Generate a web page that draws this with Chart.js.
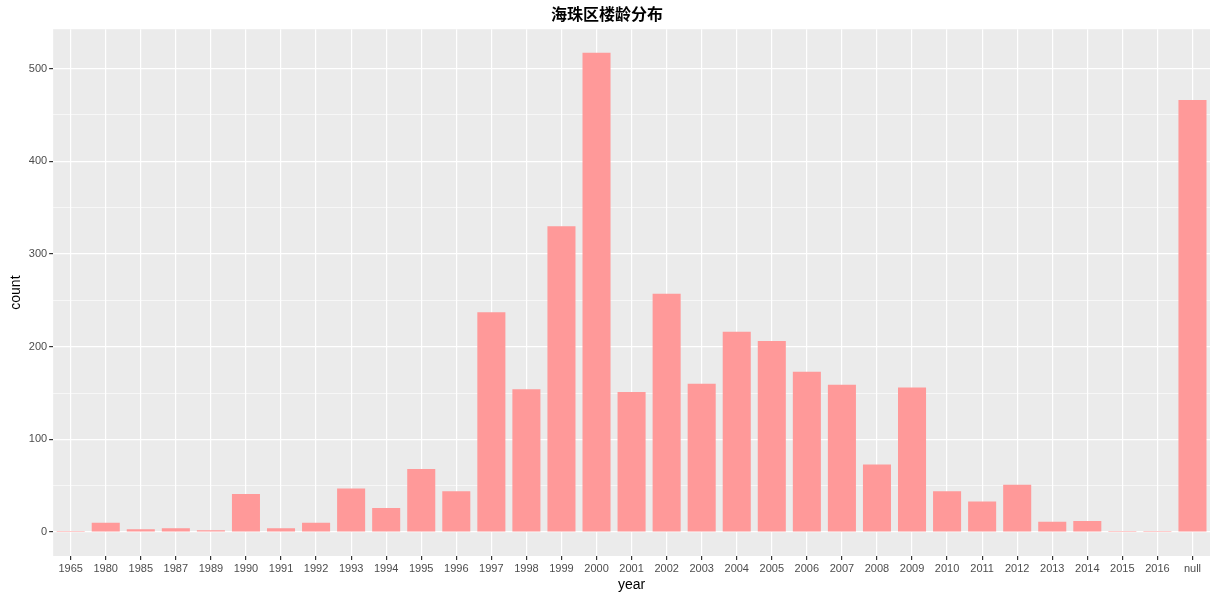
<!DOCTYPE html>
<html>
<head>
<meta charset="utf-8">
<script src="https://cdn.jsdelivr.net/npm/chart.js@4"></script>
<style>
  body { margin: 0; background: #fff; }
  #wrap { width: 1218px; height: 600px; }
</style>
</head>
<body>
<div id="wrap"><canvas id="c"></canvas></div>
<script>
const years = ["1965","1980","1985","1987","1989","1990","1991","1992","1993","1994","1995","1996","1997","1998","1999","2000","2001","2002","2003","2004","2005","2006","2007","2008","2009","2010","2011","2012","2013","2014","2015","2016","null"];
const counts = [1,10,3,4,2,41,4,10,47,26,68,44,237,154,330,517,151,257,160,216,206,173,159,73,156,44,33,51,11,12,1,1,466];
const yTicks = [0,50,100,150,200,250,300,350,400,450,500];

// grey panel behind the plot like ggplot
const panelBg = {
  id: "panelBg",
  beforeDraw(chart) {
    const { ctx, chartArea: a } = chart;
    ctx.save();
    ctx.fillStyle = "#EBEBEB";
    ctx.fillRect(a.left, a.top, a.right - a.left, a.bottom - a.top);
    ctx.restore();
  }
};

new Chart(document.getElementById("c"), {
  type: "bar",
  data: {
    labels: years,
    datasets: [{ data: counts, backgroundColor: "#FF9999", categoryPercentage: 0.8, barPercentage: 1 }]
  },
  options: {
    responsive: true,
    maintainAspectRatio: false,
    animation: false,
    layout: { padding: { top: 4, right: 8, left: 4, bottom: 2 } },
    plugins: {
      legend: { display: false },
      tooltip: { enabled: false },
      title: {
        display: true, text: "海珠区楼龄分布", color: "#000",
        font: { size: 16, family: "Noto Sans CJK SC" }, padding: { top: 0, bottom: 6 }
      }
    },
    scales: {
      x: {
        grid: { color: "#fff", lineWidth: 1.2, offset: false, drawTicks: true, tickLength: 4, tickColor: "#333" },
        border: { display: false },
        ticks: { color: "#4D4D4D", font: { size: 11, family: "Liberation Sans" }, maxRotation: 0, autoSkip: false, padding: 2 },
        title: { display: true, text: "year", color: "#000", font: { size: 14, family: "Liberation Sans" }, padding: { top: 0 } }
      },
      y: {
        min: -25.85, max: 542.5,
        afterBuildTicks(axis) { axis.ticks = yTicks.map(v => ({ value: v })); },
        grid: {
          color: "#fff",
          lineWidth: ctx => (ctx.tick && ctx.tick.value % 100 === 0 ? 1.2 : 0.6),
          tickLength: 4, tickColor: ctx => (ctx.tick && ctx.tick.value % 100 === 0 ? "#333" : "rgba(0,0,0,0)")
        },
        border: { display: false },
        ticks: {
          color: "#4D4D4D", font: { size: 11, family: "Liberation Sans" }, padding: 2,
          callback: v => (v % 100 === 0 ? v : "")
        },
        title: { display: true, text: "count", color: "#000", font: { size: 14, family: "Liberation Sans" }, padding: { bottom: 2 } }
      }
    }
  },
  plugins: [panelBg]
});
</script>
</body>
</html>
